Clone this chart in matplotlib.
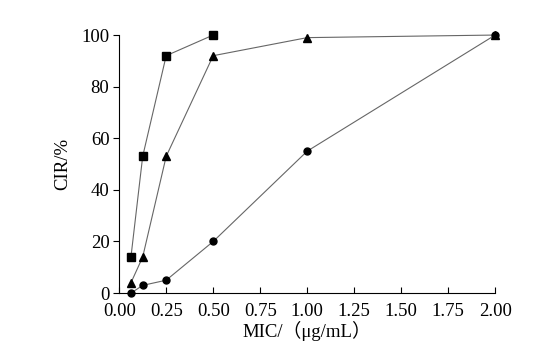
import matplotlib
matplotlib.use("Agg")
import matplotlib.pyplot as plt

plt.rcParams['font.family'] = ['Liberation Serif', 'Noto Sans CJK SC', 'DejaVu Serif']

sq_x = [0.0625, 0.125, 0.25, 0.5]
sq_y = [14, 53, 92, 100]
tri_x = [0.0625, 0.125, 0.25, 0.5, 1.0, 2.0]
tri_y = [4, 14, 53, 92, 99, 100]
cir_x = [0.0625, 0.125, 0.25, 0.5, 1.0, 2.0]
cir_y = [0, 3, 5, 20, 55, 100]
xticks = [0.00, 0.25, 0.50, 0.75, 1.00, 1.25, 1.50, 1.75, 2.00]
yticks = [0, 20, 40, 60, 80, 100]

fig = plt.figure(figsize=(5.57, 3.54), dpi=100)
ax = fig.add_axes([0.214, 0.172, 0.675, 0.729])

lc = '#666666'
ax.plot(sq_x, sq_y, '-', color=lc, lw=0.8, marker='s', ms=6, mfc='black', mec='black', clip_on=False)
ax.plot(tri_x, tri_y, '-', color=lc, lw=0.8, marker='^', ms=6, mfc='black', mec='black', clip_on=False)
ax.plot(cir_x, cir_y, '-', color=lc, lw=0.8, marker='o', ms=5, mfc='black', mec='black', clip_on=False)

ax.set_xlim(0, 2.0)
ax.set_ylim(0, 100)
ax.set_xticks(xticks)
ax.set_xticklabels([f"{v:.2f}" for v in xticks])
ax.set_yticks(yticks)
ax.spines['top'].set_visible(False)
ax.spines['right'].set_visible(False)
ax.tick_params(axis='x', direction='in', length=4, labelsize=13.5, pad=7)
ax.tick_params(axis='y', direction='out', length=4, labelsize=13.5, pad=3)
ax.set_xlabel('MIC/（μg/mL）', fontsize=13.5, labelpad=1)
ax.set_ylabel('CIR/%', fontsize=13.5, labelpad=7)

fig.savefig('out.png', dpi=100)
